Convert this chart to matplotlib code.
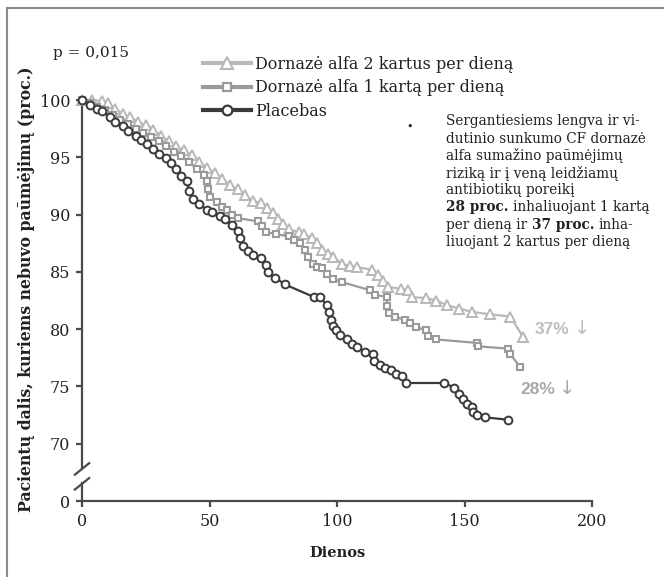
import numpy as np
import matplotlib
matplotlib.use("Agg")
import matplotlib.pyplot as plt
from matplotlib.lines import Line2D

# ---- data ----
placebo_days = [0, 3, 6, 8, 11, 13, 16, 18, 21, 23, 25.5, 28, 30, 33, 35, 37, 39, 41, 42, 43.5,
                46, 49, 51, 54, 56, 59, 61, 62, 63, 65, 67, 70, 72, 73, 75.7, 79.6, 91, 93.3, 96, 97,
                97.5, 98.5, 99.5, 101, 104, 106, 108, 111, 114, 114.5, 117, 119, 121, 123, 125.5, 127,
                142, 146, 148, 149.5, 151, 153, 153.5, 155, 158, 167]
placebo_vals = [100, 99.6, 99.2, 99.0, 98.5, 98.1, 97.7, 97.3, 96.9, 96.5, 96.2, 95.7, 95.3, 94.9,
                94.5, 94.0, 93.4, 92.9, 92.1, 91.4, 90.9, 90.4, 90.2, 89.9, 89.6, 89.1, 88.6, 88.0,
                87.3, 86.8, 86.5, 86.2, 85.6, 85.0, 84.5, 83.9, 82.8, 82.8, 82.1, 81.5, 80.8, 80.3,
                79.9, 79.5, 79.1, 78.7, 78.4, 78.0, 77.8, 77.2, 76.9, 76.6, 76.4, 76.1, 75.9, 75.3,
                75.3, 74.9, 74.3, 73.9, 73.5, 73.2, 72.8, 72.5, 72.3, 72.1]

once_days = [0, 3, 6, 9, 12, 15, 18, 21, 24, 27, 30, 33, 36, 39, 42, 45, 48, 49, 49.5, 50, 53, 55,
             57, 59, 61, 69, 70.5, 72, 76, 81, 83, 85.5, 87.5, 88.5, 90.6, 92, 94, 96, 98.5, 102,
             113, 115, 119.6, 119.8, 120.2, 122.7, 126.7, 128.6, 131, 135, 135.7, 139, 155, 155.4,
             167, 168, 171.8]
once_vals = [100, 99.7, 99.4, 99.1, 98.7, 98.3, 97.9, 97.5, 97.1, 96.8, 96.4, 96.0, 95.5, 95.1,
             94.6, 94.0, 93.5, 92.9, 92.2, 91.5, 91.1, 90.7, 90.4, 90.0, 89.7, 89.4, 89.0, 88.5,
             88.3, 88.1, 87.8, 87.5, 86.9, 86.3, 85.7, 85.4, 85.3, 84.8, 84.4, 84.1, 83.4, 83.0,
             82.8, 82.0, 81.4, 81.1, 80.8, 80.5, 80.2, 79.9, 79.4, 79.1, 78.8, 78.5, 78.3, 77.8,
             76.7]

twice_days = [0, 4, 8, 10, 13, 16, 19, 22, 25, 28, 31, 34, 37, 40, 43, 46, 49, 52, 55, 58, 61, 64,
              67, 70, 72.5, 75, 77, 79, 81, 85, 87, 90, 92, 94, 96.5, 98.5, 102, 105, 108, 113.7,
              116, 118, 120, 125, 128, 129.5, 135, 139, 143, 148, 153, 160, 168, 173]
twice_vals = [100, 100, 99.9, 99.7, 99.2, 98.8, 98.5, 98.1, 97.8, 97.4, 96.9, 96.4, 96.0, 95.6,
              95.2, 94.6, 94.1, 93.6, 93.1, 92.6, 92.2, 91.7, 91.2, 91.0, 90.6, 90.1, 89.6, 89.2,
              88.7, 88.5, 88.3, 88.0, 87.5, 86.9, 86.6, 86.3, 85.7, 85.5, 85.4, 85.2, 84.7, 84.2,
              83.7, 83.5, 83.4, 82.8, 82.7, 82.5, 82.1, 81.8, 81.5, 81.3, 81.1, 79.3]

labels = ["Dornazė alfa 2 kartus per dieną", "Dornazė alfa 1 kartą per dieną", "Placebas"]
ytick_vals = [100, 95, 90, 85, 80, 75, 70]
xtick_vals = [0, 50, 100, 150, 200]

note_lines = [
    [("Sergantiesiems lengva ir vi-", False)],
    [("dutinio sunkumo CF dornazė", False)],
    [("alfa sumažino paūmėjimų", False)],
    [("riziką ir į veną leidžiamų", False)],
    [("antibiotikų poreikį", False)],
    [("28 proc.", True), ("inhaliuojant 1 kartą", False)],
    [("per dieną ir", False), ("37 proc.", True), ("inha-", False)],
    [("liuojant 2 kartus per dieną", False)],
]

c_twice = "#b8b8b8"
c_once = "#9a9a9a"
c_plac = "#3a3a3a"
axcol = "#4a4a4a"
SERIF = "DejaVu Serif"
SANS = ["Liberation Sans", "DejaVu Sans"]

W, H = 664, 577
fig = plt.figure(figsize=(W / 100, H / 100), dpi=100)


def fx(x):
    return x / W


def fy(y):
    return 1 - y / H


# axes: x 0..200 -> px 82..592 ; y 65(=0)..100.3 -> px 501..96.6
ax = fig.add_axes([fx(82), fy(501), 510 / W, (501 - 96.6) / H])
ax.set_xlim(0, 200)
ax.set_ylim(65, 100.3)

# break in y: value 0 is drawn at position 65
ax.plot(twice_days, twice_vals, "-^", color=c_twice, lw=1.6, ms=7, mfc="white", mec=c_twice,
        mew=1.4, clip_on=False, zorder=3)
ax.plot(once_days, once_vals, "-s", color=c_once, lw=1.6, ms=5, mfc="white", mec=c_once,
        mew=1.5, clip_on=False, zorder=4)
ax.plot(placebo_days, placebo_vals, "-o", color=c_plac, lw=1.6, ms=5.6, mfc="white", mec=c_plac,
        mew=1.4, clip_on=False, zorder=5)

for s in ["top", "right", "left"]:
    ax.spines[s].set_visible(False)
ax.spines["bottom"].set_color(axcol)
ax.spines["bottom"].set_linewidth(1.6)

yt = ax.get_yaxis_transform()
ax.plot([0, 0], [65, 66.6], color=axcol, lw=1.6, transform=yt, clip_on=False)
ax.plot([0, 0], [67.8, 100.3], color=axcol, lw=1.6, transform=yt, clip_on=False)
for yb in [66.5, 67.8]:
    ax.plot([-0.014, 0.014], [yb - 0.5, yb + 0.5], color=axcol, lw=1.6, transform=yt,
            clip_on=False)

ax.set_yticks([65] + ytick_vals)
ax.set_yticklabels(["0"] + [str(v) for v in ytick_vals])
ax.set_xticks(xtick_vals)
ax.tick_params(axis="both", direction="out", color=axcol, width=1.6, length=4.5,
               labelsize=11.5, labelcolor="#222222", pad=4)
for lab in ax.get_xticklabels() + ax.get_yticklabels():
    lab.set_family(SERIF)

ax.set_xlabel("Dienos", family=SERIF, fontweight="bold", fontsize=10.5, color="#222222",
              labelpad=12)
fig.text(fx(26), fy(289), "Pacientų dalis, kuriems nebuvo paūmėjimų (proc.)", family=SERIF,
         fontweight="bold", fontsize=11.3, rotation=90, ha="center", va="center",
         color="#222222")

fig.text(fx(53), fy(53), "p = 0,015", family=SERIF, fontsize=11, va="center", color="#222222")

handles = [
    Line2D([], [], color=c_twice, lw=3, marker="^", ms=8, mfc="white", mec=c_twice, mew=1.5),
    Line2D([], [], color=c_once, lw=3, marker="s", ms=6, mfc="white", mec=c_once, mew=1.6),
    Line2D([], [], color=c_plac, lw=3, marker="o", ms=7, mfc="white", mec=c_plac, mew=1.6),
]
fig.legend(handles, labels, loc="upper left", bbox_to_anchor=(fx(195), fy(48)), frameon=False,
           borderpad=0, handlelength=3.0, handletextpad=0.25, labelspacing=0.4,
           prop={"family": SERIF, "size": 11.5}, labelcolor="#222222")

for xp, yp, txt, col in [(535, 329, "37%", "#bdbdbd"), (520, 389, "28%", "#a9a9a9")]:
    t = fig.text(fx(xp), fy(yp), txt, family=SANS, fontweight="bold", fontsize=12.5,
                 color=col, va="center")
    w = t.get_window_extent(fig.canvas.get_renderer()).width
    fig.text(fx(xp + w + 4), fy(yp), "↓", family=["DejaVu Sans"], fontsize=14,
             color=col, va="center")

# note paragraph with bold pieces
fig.text(fx(410), fy(127), "•", family=SERIF, fontsize=8, ha="center", va="center",
         color="#222222")
renderer = fig.canvas.get_renderer()
note_size = 9.8
probe_a = fig.text(0, 0, "x x", family=SERIF, fontsize=note_size)
probe_b = fig.text(0, 0, "xx", family=SERIF, fontsize=note_size)
space_w = probe_a.get_window_extent(renderer).width - probe_b.get_window_extent(renderer).width
probe_a.remove()
probe_b.remove()
y0 = 120
for i, line in enumerate(note_lines):
    x = 446
    ypx = y0 + i * 17.2
    for txt, bold in line:
        t = fig.text(fx(x), fy(ypx), txt, family=SERIF, fontsize=note_size,
                     fontweight="bold" if bold else "normal", va="center_baseline",
                     color="#222222")
        x += t.get_window_extent(renderer).width + space_w

# partial frame around the figure (left and top edges visible)
fig.add_artist(Line2D([fx(7), fx(7)], [0, fy(8)], color="#8a8a8a", lw=1.5))
fig.add_artist(Line2D([fx(7), 1], [fy(8), fy(8)], color="#8a8a8a", lw=1.5))

fig.savefig("out.png", dpi=100)
